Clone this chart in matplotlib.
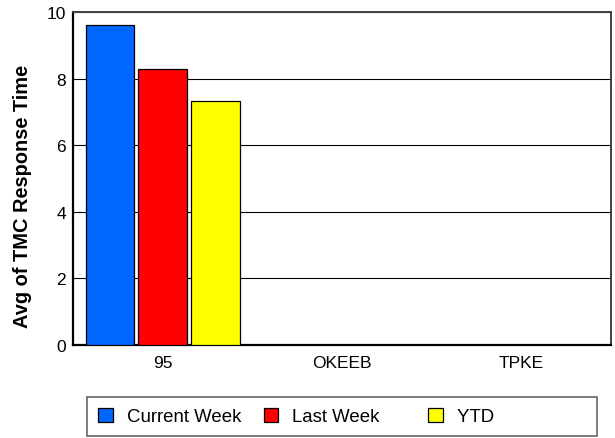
import numpy as np
import matplotlib
matplotlib.use("Agg")
import matplotlib.pyplot as plt

plt.rcParams['font.family'] = ['Liberation Sans', 'DejaVu Sans']

categories = ["95", "OKEEB", "TPKE"]
series_names = ["Current Week", "Last Week", "YTD"]
current_week = [9.6, np.nan, np.nan]
last_week = [8.28, np.nan, np.nan]
ytd = [7.32, np.nan, np.nan]
colors = ["#0066FF", "#FF0000", "#FFFF00"]

fig = plt.figure(figsize=(6.15, 4.39), dpi=100)
ax = fig.add_axes([0.1187, 0.2118, 0.8748, 0.7586])

x = np.arange(len(categories))
width = 0.27
offsets = [-0.294, 0.0, 0.294]
for vals, name, col, off in zip([current_week, last_week, ytd], series_names, colors, offsets):
    ax.bar(x + off, vals, width, color=col, edgecolor="black", linewidth=0.9,
           label=name, zorder=3)

ax.set_xlim(-0.5, 2.5)
ax.set_ylim(0, 10)
ax.set_yticks(range(0, 11, 2))
ax.set_xticks(x)
ax.set_xticklabels(categories)
ax.tick_params(axis="both", length=0, labelsize=12.5)
ax.tick_params(axis="y", pad=5)
ax.tick_params(axis="x", pad=7)
ax.grid(axis="y", color="black", linewidth=0.8, zorder=0)

for side in ["left", "bottom"]:
    ax.spines[side].set_color("black")
    ax.spines[side].set_linewidth(1.6)
for side in ["top", "right"]:
    ax.spines[side].set_color("#404040")
    ax.spines[side].set_linewidth(1.4)

ax.set_ylabel("Avg of TMC Response Time", fontsize=14.4, fontweight="bold")
ax.yaxis.set_label_coords(-0.076, 0.45)

# pad labels so the legend columns come out equally wide
labels = ["Current Week", "Last Week" + " " * 5, "YTD" + " " * 18]
handles, _ = ax.get_legend_handles_labels()
leg = fig.legend(handles, labels, loc="center", bbox_to_anchor=(0.556, 0.049),
                 ncol=3, fontsize=13.4, frameon=True, fancybox=False,
                 edgecolor="#404040", borderpad=0.6, handlelength=0.8,
                 handleheight=0.8, handletextpad=0.75, columnspacing=1.2,
                 borderaxespad=0)
leg.get_frame().set_linewidth(1.2)

fig.savefig("out.png", dpi=100)
